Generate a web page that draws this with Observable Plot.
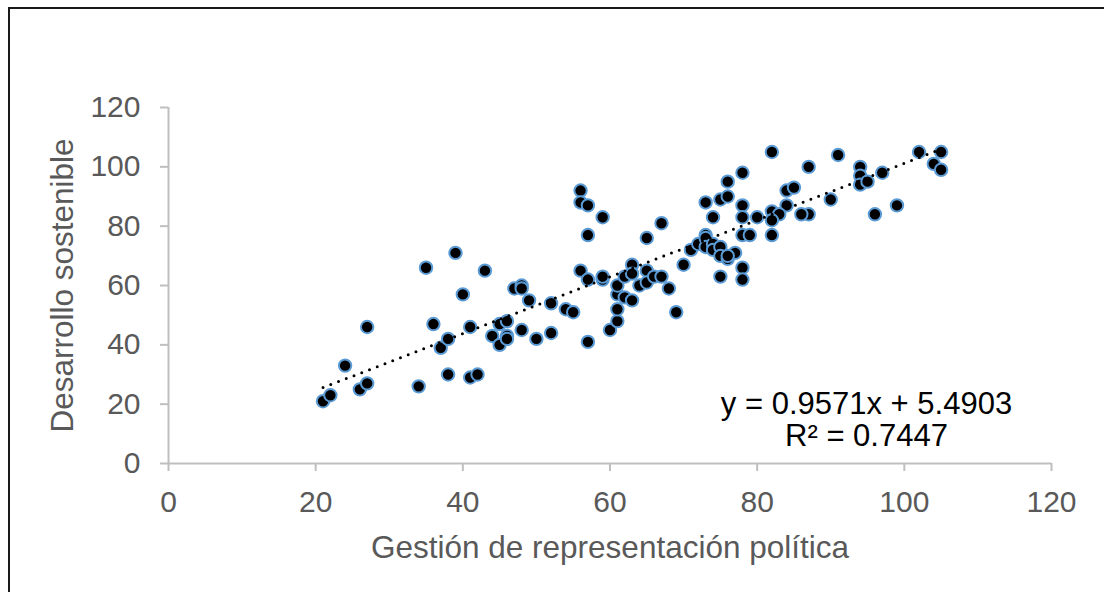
<!DOCTYPE html>
<html>
<head>
<meta charset="utf-8">
<script src="https://cdn.jsdelivr.net/npm/d3@7"></script>
<script src="https://cdn.jsdelivr.net/npm/@observablehq/plot@0.6"></script>
<style>
  html, body { margin: 0; padding: 0; background: #fff; overflow: hidden; }
  #wrap { position: relative; width: 1104px; height: 592px; overflow: hidden; }
  #border { position: absolute; left: 8px; top: 7px; right: -20px; bottom: -20px; border: 2px solid #1a1a1a; pointer-events: none; }
  svg { display: block; }
</style>
</head>
<body>
<div id="wrap"><div id="chart"></div><div id="border"></div></div>
<script>
// Gestión de representación política (x) and Desarrollo sostenible (y)
const gestion = [21,22,24,26,27,27,34,35,36,37,38,38,39,40,41,41,42,43,44,45,45,46,46,46,47,48,48,48,49,50,52,52,54,55,
  56,56,57,59,57,56,57,57,59,59,60,61,61,61,61,62,62,63,63,63,64,65,65,66,67,68,69,70,65,67,
  71,72,73,73,73,74,74,75,75,76,77,75,78,78,73,74,75,76,76,78,78,78,78,79,80,
  82,87,91,94,94,94,95,97,102,105,104,105,99,96,90,87,86,84,85,84,82,83,82,82,76];
const desarrollo = [21,23,33,25,27,46,26,66,47,39,42,30,71,57,46,29,30,65,43,47,40,48,43,42,59,60,59,45,55,42,54,44,52,51,
  92,88,87,83,77,65,62,41,62,63,45,48,52,57,60,63,56,67,55,64,60,65,61,63,63,59,51,67,76,81,
  72,74,77,76,73,74,72,73,70,69,71,63,66,62,88,83,89,90,95,98,87,83,77,77,83,
  105,100,104,100,97,94,95,98,105,105,101,99,87,84,89,84,84,92,93,87,85,84,82,77,70];
const xTicks = [0,20,40,60,80,100,120];
const yTicks = [0,20,40,60,80,100,120];
const xTitle = "Gestión de representación política";
const yTitle = "Desarrollo sostenible";
const slope = 0.9571, intercept = 5.4903, r2 = 0.7447;
const eqText = "y = 0.9571x + 5.4903";
const r2Text = "R² = 0.7447";

const points = gestion.map((g, i) => ({x: g, y: desarrollo[i]}));
const xExt = d3.extent(gestion);
const trend = xExt.map(x => ({x, y: slope * x + intercept}));

const font = "Liberation Sans, Arial, sans-serif";
const chart = Plot.plot({
  width: 1104,
  height: 592,
  marginLeft: 168,
  marginRight: 53,
  marginTop: 107,
  marginBottom: 129,
  style: {fontFamily: font, background: "transparent"},
  x: {domain: [0, 120], axis: null},
  y: {domain: [0, 120], axis: null},
  marks: [
    Plot.axisY(yTicks, {tickSize: 8, tickPadding: 20, stroke: "#bfbfbf", strokeWidth: 2, fill: "#595959", fontSize: 30, label: null, tickFormat: d => String(d)}),
    Plot.axisX(xTicks, {tickSize: 8, tickPadding: 19, stroke: "#bfbfbf", strokeWidth: 2, fill: "#595959", fontSize: 30, label: null, tickFormat: d => String(d)}),
    Plot.ruleX([0], {stroke: "#bfbfbf", strokeWidth: 2}),
    Plot.ruleY([0], {stroke: "#bfbfbf", strokeWidth: 2}),
    Plot.dot(points, {x: "x", y: "y", r: 6.2, fill: "#000", stroke: "#5b9bd5", strokeWidth: 2}),
    Plot.line(trend, {x: "x", y: "y", stroke: "#000", strokeWidth: 3, strokeDasharray: "0 8.3", strokeLinecap: "round"}),
    Plot.text([eqText], {frameAnchor: "bottom-right", dx: -185, dy: -59, textAnchor: "middle", lineAnchor: "middle", fontSize: 31, fill: "#000"}),
    Plot.text([r2Text], {frameAnchor: "bottom-right", dx: -185, dy: -27, textAnchor: "middle", lineAnchor: "middle", fontSize: 31, fill: "#000"}),
    Plot.text([xTitle], {frameAnchor: "bottom", dy: 84, textAnchor: "middle", lineAnchor: "middle", fontSize: 31.5, fill: "#595959"}),
    Plot.text([yTitle], {frameAnchor: "left", dx: -106, rotate: -90, textAnchor: "middle", lineAnchor: "middle", fontSize: 31.5, fill: "#595959"})
  ]
});
document.getElementById("chart").appendChild(chart);
</script>
</body>
</html>
